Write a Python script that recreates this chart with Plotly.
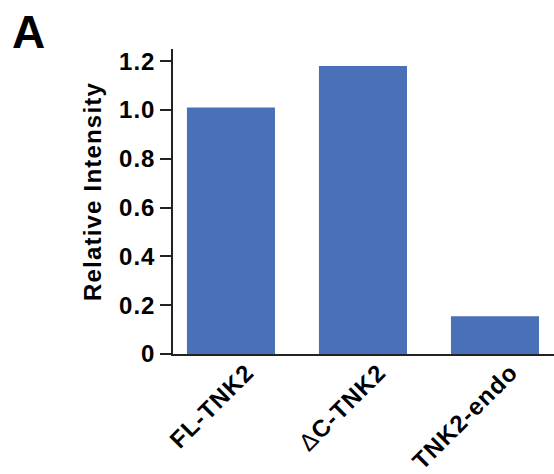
import plotly.graph_objects as go

categories = ["FL-TNK2", "<span style='font-weight:normal'>Δ</span>C-TNK2", "TNK2-endo"]
values = [1.01, 1.18, 0.155]
y_ticks = [0, 0.2, 0.4, 0.6, 0.8, 1.0, 1.2]
y_tick_labels = ["0", "0.2", "0.4", "0.6", "0.8", "1.0", "1.2"]
y_title = "Relative Intensity"

font = "Liberation Sans, Arial, Helvetica, sans-serif"
positions = [0, 1, 2]
label_offset = 0.12

W, H = 554, 474
ML, MR, MT, MB = 173, 0, 49, 120
PW, PH = W - ML - MR, H - MT - MB


def spaced(t, px):
    return f"<span style='letter-spacing:{px}px'>{t}</span>"


fig = go.Figure(go.Bar(
    x=positions, y=values, marker=dict(color="#4a71b7", line=dict(width=0)),
    width=0.667,
))

fig.update_layout(
    width=W, height=H,
    margin=dict(l=ML, r=MR, t=MT, b=MB),
    plot_bgcolor="white", paper_bgcolor="white",
    showlegend=False,
    font=dict(family=font, color="black"),
    xaxis=dict(
        range=[-0.439, 2.886 - 0.439], automargin=False,
        tickmode="array", tickvals=[p + label_offset for p in positions],
        ticktext=[spaced(c, 1) for c in categories],
        tickangle=-45, showline=True, linecolor="#222", linewidth=1.5,
        ticks="", showgrid=False, zeroline=False, ticklabelstandoff=-7,
        tickfont=dict(size=24, family=font, weight="bold"),
    ),
    yaxis=dict(
        range=[0, 1.25], automargin=False,
        tickmode="array", tickvals=y_ticks,
        ticktext=[spaced(t, 1) for t in y_tick_labels],
        showline=True, linecolor="#222", linewidth=1.5,
        ticks="outside", ticklen=11, tickwidth=1.5, tickcolor="#222",
        showgrid=False, zeroline=False,
        tickfont=dict(size=24, family=font, weight="bold"),
    ),
    annotations=[
        dict(
            text="<b>A</b>", xref="paper", yref="paper",
            x=(10 - ML) / PW, y=(H - MB - 4) / PH,
            xanchor="left", yanchor="top",
            showarrow=False, font=dict(size=46, family=font, color="black"),
        ),
        dict(
            text="<b>" + spaced(y_title, 1.2) + "</b>", xref="paper", yref="paper",
            x=(92 - ML) / PW, y=(H - MB - 192) / PH,
            xanchor="center", yanchor="middle", textangle=-90,
            showarrow=False, font=dict(size=24, family=font, color="black"),
        ),
    ],
)

fig.write_html(
    "out.html",
    config={"displayModeBar": False},
    post_script="document.body.style.margin='0px';document.body.style.padding='0px';",
)
